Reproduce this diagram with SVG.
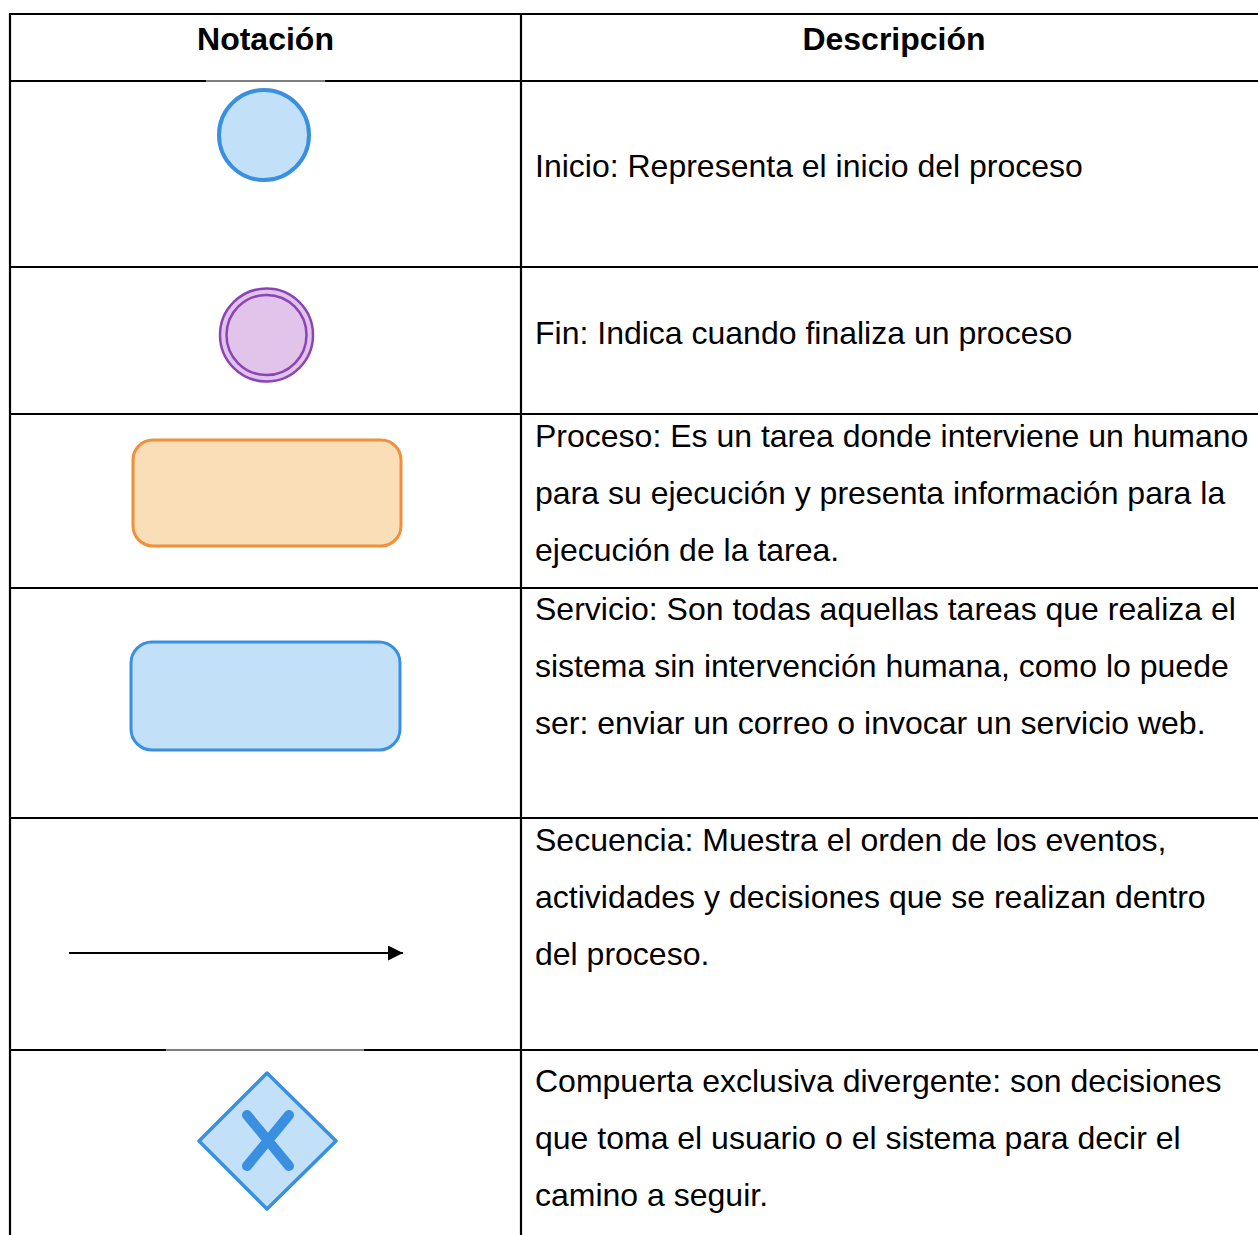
<svg xmlns="http://www.w3.org/2000/svg" width="1258" height="1235" viewBox="0 0 1258 1235">
<style>
.grid{stroke:#000;stroke-width:2.2;fill:none}
.thin{stroke:#000;stroke-width:1;fill:none}
.hd{font-family:"Liberation Sans",Arial,sans-serif;font-weight:bold;font-size:32px;fill:#000;text-anchor:middle}
.tx{font-family:"Liberation Sans",Arial,sans-serif;font-size:32px;fill:#000}
.blue{fill:#c2e0f8;stroke:#3a8fe0}
</style>
<defs>
<marker id="ah" viewBox="0 0 10 10" refX="10" refY="5" markerWidth="7.5" markerHeight="7.5" markerUnits="strokeWidth" orient="auto">
<path d="M0,0 L10,5 L0,10 Z" fill="#000"/>
</marker>
</defs>
<rect width="1258" height="1235" fill="#fff"/>
<g id="table">
<line class="grid" x1="9" y1="14" x2="1258" y2="14"/>
<line class="grid" x1="10" y1="13" x2="10" y2="1235"/>
<line class="grid" x1="521" y1="13" x2="521" y2="1235"/>
<line class="grid" x1="9" y1="81" x2="206" y2="81"/>
<line class="thin" x1="206" y1="81" x2="325" y2="81"/>
<line class="grid" x1="325" y1="81" x2="1258" y2="81"/>
<line class="grid" x1="9" y1="267" x2="1258" y2="267"/>
<line class="grid" x1="9" y1="414" x2="1258" y2="414"/>
<line class="grid" x1="9" y1="588" x2="1258" y2="588"/>
<line class="grid" x1="9" y1="818" x2="1258" y2="818"/>
<line class="grid" x1="9" y1="1050" x2="166" y2="1050"/>
<line class="thin" x1="166" y1="1050" x2="364" y2="1050"/>
<line class="grid" x1="364" y1="1050" x2="1258" y2="1050"/>
</g>
<g id="headers">
<text class="hd" x="265.5" y="50">Notación</text>
<text class="hd" x="894" y="50">Descripción</text>
</g>
<g id="inicio">
<circle class="blue" cx="264" cy="135" r="45" stroke-width="4"/>
<text class="tx" x="535" y="177">Inicio: Representa el inicio del proceso</text>
</g>
<g id="fin">
<circle cx="266.5" cy="335" r="46.5" fill="#e2c3ea" stroke="#8a44b8" stroke-width="2.5"/>
<circle cx="266.5" cy="335" r="40" fill="none" stroke="#8a44b8" stroke-width="2.5"/>
<text class="tx" x="535" y="344">Fin: Indica cuando finaliza un proceso</text>
</g>
<g id="proceso">
<rect x="133" y="440" width="268" height="106" rx="20" fill="#f9deb8" stroke="#f0903a" stroke-width="3"/>
<text class="tx" x="535" y="447">Proceso: Es un tarea donde interviene un humano</text>
<text class="tx" x="535" y="504">para su ejecución y presenta información para la</text>
<text class="tx" x="535" y="561">ejecución de la tarea.</text>
</g>
<g id="servicio">
<rect class="blue" x="131" y="642" width="269" height="108" rx="21" stroke-width="3"/>
<text class="tx" x="535" y="620">Servicio: Son todas aquellas tareas que realiza el</text>
<text class="tx" x="535" y="677">sistema sin intervención humana, como lo puede</text>
<text class="tx" x="535" y="734">ser: enviar un correo o invocar un servicio web.</text>
</g>
<g id="connectors">
<line x1="69" y1="953" x2="403" y2="953" stroke="#000" stroke-width="2" marker-end="url(#ah)"/>
</g>
<g id="secuencia">
<text class="tx" x="535" y="851">Secuencia: Muestra el orden de los eventos,</text>
<text class="tx" x="535" y="908">actividades y decisiones que se realizan dentro</text>
<text class="tx" x="535" y="965">del proceso.</text>
</g>
<g id="compuerta">
<polygon class="blue" points="267,1073 336,1141 267,1209 199,1141" stroke-width="3.5" stroke-linejoin="round"/>
<path d="M247,1115 L289,1166 M289,1115 L247,1166" stroke="#3a8fe0" stroke-width="10" stroke-linecap="round" fill="none"/>
<text class="tx" x="535" y="1092">Compuerta exclusiva divergente: son decisiones</text>
<text class="tx" x="535" y="1149">que toma el usuario o el sistema para decir el</text>
<text class="tx" x="535" y="1206">camino a seguir.</text>
</g>
</svg>
